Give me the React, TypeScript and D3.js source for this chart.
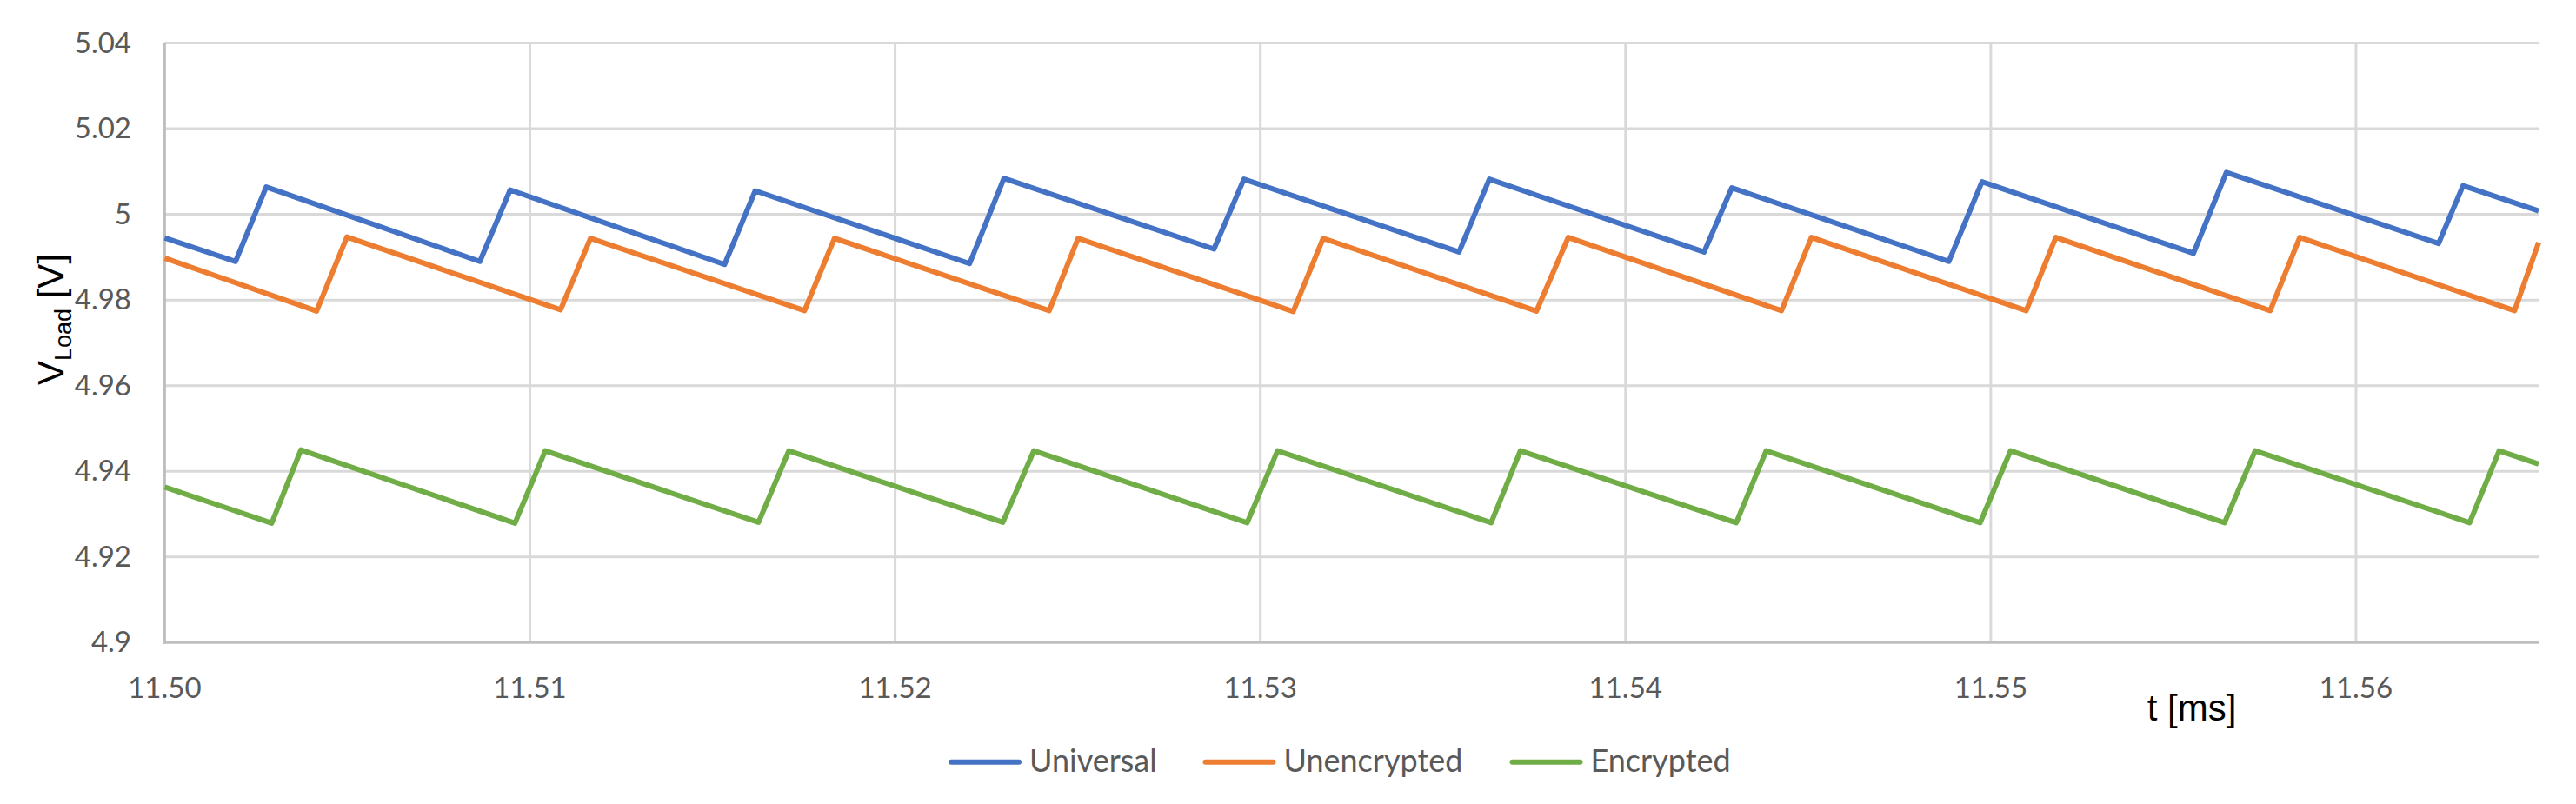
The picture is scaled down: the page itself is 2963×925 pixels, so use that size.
import React from "react";
import * as d3 from "d3";

// ---- data ----
const universalT = [11.5, 11.50194, 11.50278, 11.50863, 11.50946, 11.51533, 11.51617, 11.52204, 11.52298, 11.52873, 11.52955, 11.53544, 11.53627, 11.54215, 11.54291, 11.54885, 11.54976, 11.55555, 11.55645, 11.56226, 11.56293, 11.565];
const universalV = [4.9945, 4.989, 5.0064, 4.989, 5.0057, 4.9883, 5.0055, 4.9885, 5.0084, 4.9919, 5.0082, 4.9912, 5.0082, 4.9912, 5.0062, 4.989, 5.0076, 4.9909, 5.0098, 4.9932, 5.0067, 5.0008];

const unencryptedT = [11.5, 11.50416, 11.50499, 11.51084, 11.51166, 11.51752, 11.51834, 11.52422, 11.52501, 11.5309, 11.53172, 11.53756, 11.53843, 11.54427, 11.54509, 11.55097, 11.55178, 11.55765, 11.55846, 11.56434, 11.565];
const unencryptedV = [4.9898, 4.9774, 4.9947, 4.9777, 4.9944, 4.9775, 4.9944, 4.9775, 4.9944, 4.9773, 4.9944, 4.9774, 4.9946, 4.9775, 4.9946, 4.9775, 4.9946, 4.9775, 4.9946, 4.9775, 4.9934];

const encryptedT = [11.5, 11.50293, 11.50373, 11.50959, 11.51042, 11.51626, 11.51709, 11.52295, 11.5238, 11.52964, 11.53047, 11.53632, 11.53712, 11.54303, 11.54385, 11.54971, 11.55054, 11.5564, 11.55724, 11.56311, 11.56392, 11.565];
const encryptedV = [4.9363, 4.9279, 4.945, 4.9279, 4.9448, 4.9281, 4.9448, 4.9281, 4.9448, 4.928, 4.9448, 4.928, 4.9448, 4.928, 4.9448, 4.928, 4.9448, 4.928, 4.9448, 4.928, 4.9448, 4.9417];

const seriesNames = ["Universal", "Unencrypted", "Encrypted"];
const seriesColors = ["#4472C4", "#ED7D31", "#70AD47"];

const yTicks = [4.9, 4.92, 4.94, 4.96, 4.98, 5.0, 5.02, 5.04];
const yTickLabels = ["4.9", "4.92", "4.94", "4.96", "4.98", "5", "5.02", "5.04"];
const xTicks = [11.5, 11.51, 11.52, 11.53, 11.54, 11.55, 11.56];
const xTickLabels = ["11.50", "11.51", "11.52", "11.53", "11.54", "11.55", "11.56"];

const W = 2963;
const H = 925;
const TICK_FONT = "Lato, Carlito, Calibri, 'Open Sans', sans-serif";
const TITLE_FONT = "'Liberation Sans', Arial, sans-serif";

export default function App() {
  const x = d3.scaleLinear().domain([11.5, 11.565]).range([189.4, 2920]);
  const y = d3.scaleLinear().domain([4.9, 5.04]).range([739.3, 49.5]);

  const series = [
    { t: universalT, v: universalV },
    { t: unencryptedT, v: unencryptedV },
    { t: encryptedT, v: encryptedV },
  ];

  const line = d3
    .line<[number, number]>()
    .x((d) => x(d[0]))
    .y((d) => y(d[1]));

  const legendX = [1091, 1383.5, 1736.5];

  return (
    <svg
      width={W}
      height={H}
      style={{ position: "absolute", left: 0, top: 0, display: "block", background: "#fff" }}
    >
      <rect x={0} y={0} width={W} height={H} fill="#fff" />
      {/* horizontal gridlines */}
      {yTicks.slice(1).map((v) => (
        <line key={"gy" + v} x1={x(11.5)} x2={x(11.565)} y1={y(v)} y2={y(v)} stroke="#d9d9d9" strokeWidth={3} />
      ))}
      {/* vertical gridlines */}
      {xTicks.slice(1).map((v) => (
        <line key={"gx" + v} x1={x(v)} x2={x(v)} y1={y(5.04)} y2={y(4.9)} stroke="#d9d9d9" strokeWidth={3} />
      ))}
      {/* axes */}
      <line x1={x(11.5)} x2={x(11.5)} y1={y(5.04)} y2={y(4.9) + 1.5} stroke="#bfbfbf" strokeWidth={3} />
      <line x1={x(11.5) - 1.5} x2={x(11.565)} y1={y(4.9)} y2={y(4.9)} stroke="#bfbfbf" strokeWidth={3} />

      {/* y tick labels */}
      {yTicks.map((v, i) => (
        <text key={"yl" + v} x={151} y={y(v) + 11} textAnchor="end" fontFamily={TICK_FONT} fontSize={33} fill="#595959">
          {yTickLabels[i]}
        </text>
      ))}
      {/* x tick labels */}
      {xTicks.map((v, i) => (
        <text key={"xl" + v} x={x(v)} y={803} textAnchor="middle" fontFamily={TICK_FONT} fontSize={33} fill="#595959">
          {xTickLabels[i]}
        </text>
      ))}

      {/* series */}
      {series.map((s, i) => (
        <path
          key={"s" + i}
          d={line(s.t.map((t, j) => [t, s.v[j]] as [number, number])) || ""}
          fill="none"
          stroke={seriesColors[i]}
          strokeWidth={6}
          strokeLinejoin="round"
          strokeLinecap="butt"
        />
      ))}

      {/* axis titles */}
      <text x={2521} y={829} textAnchor="middle" fontFamily={TITLE_FONT} fontSize={42} fill="#000">
        t [ms]
      </text>
      <text
        transform="translate(72.7,367.5) rotate(-90)"
        textAnchor="middle"
        fontFamily={TITLE_FONT}
        fontSize={42}
        fill="#000"
      >
        V<tspan fontSize={27} dy={9}>Load</tspan>
        <tspan dy={-9}> [V]</tspan>
      </text>

      {/* legend */}
      {seriesNames.map((n, i) => (
        <g key={"lg" + i}>
          <line
            x1={legendX[i] + 3}
            x2={legendX[i] + 81}
            y1={876.7}
            y2={876.7}
            stroke={seriesColors[i]}
            strokeWidth={6}
            strokeLinecap="round"
          />
          <text x={legendX[i] + 93} y={888.3} fontFamily={TICK_FONT} fontSize={36} fill="#595959">
            {n}
          </text>
        </g>
      ))}
    </svg>
  );
}
